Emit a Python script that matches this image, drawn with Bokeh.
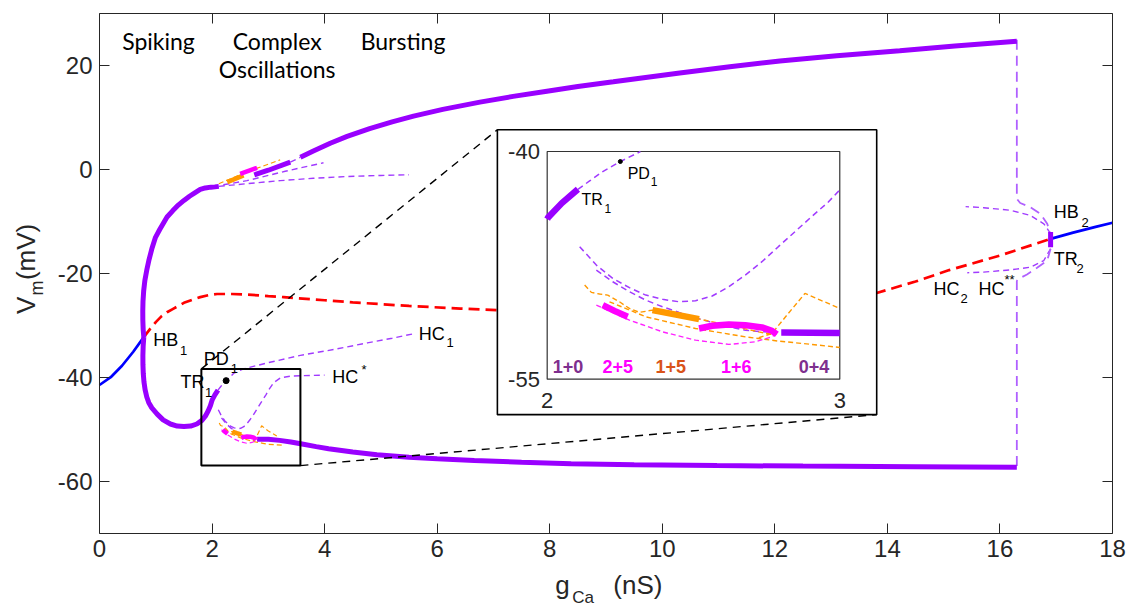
import numpy as np
from bokeh.plotting import figure
from bokeh.models import Range1d, LinearAxis, Label, FixedTicker
from bokeh.embed import file_html
from bokeh.resources import INLINE

# ---------------- data (g_Ca in nS, V_m in mV) ----------------
x_ticks = [0, 2, 4, 6, 8, 10, 12, 14, 16, 18]
y_ticks = [-60, -40, -20, 0, 20]

# stable equilibria
eq_left_g = [0.0, 0.2, 0.4, 0.6, 0.787]
eq_left_v = [-41.5, -40.0, -37.8, -35.1, -32.3]
eq_right_g = [16.9, 17.3, 17.7, 18.0]
eq_right_v = [-13.4, -12.2, -11.1, -10.3]

# unstable equilibria
equ_g = [0.787, 0.9, 1.0, 1.1, 1.2, 1.3, 1.5, 1.65, 1.79, 1.95, 2.09, 2.35, 2.6, 3.0, 3.27, 4.0,
         4.5, 5.5, 6.41, 7.5, 9.0, 10.5, 12.0, 13.0, 13.81, 14.5, 15.1, 16.0, 16.9]
equ_v = [-32.3, -30.7, -29.4, -28.3, -27.5, -26.9, -25.7, -25.1, -24.6, -24.2, -24.0, -24.0, -24.1,
         -24.4, -24.6, -25.2, -25.6, -26.3, -26.8, -27.3, -27.6, -27.5, -27.0, -25.9, -23.8, -21.6,
         -19.4, -16.6, -13.4]

# stable periodic orbits (spiking loop)
loop_max_g = [0.787, 0.776, 0.770, 0.769, 0.773, 0.785, 0.806, 0.84, 0.876, 0.93, 0.995, 1.07, 1.14,
              1.2, 1.3, 1.4, 1.5, 1.6, 1.7, 1.79, 1.88, 1.98, 2.05, 2.12]
loop_max_v = [-32.3, -30.8, -29.0, -27.3, -25.4, -23.4, -21.4, -19.4, -17.6, -15.3, -13.1, -11.6, -10.3,
              -9.2, -8.0, -6.9, -6.0, -5.2, -4.5, -3.9, -3.6, -3.45, -3.4, -3.3]
loop_min_g = [0.787, 0.776, 0.771, 0.772, 0.778, 0.79, 0.81, 0.84, 0.876, 0.93, 1.025, 1.13, 1.26, 1.38,
              1.5, 1.62, 1.73, 1.82, 1.88, 1.93, 1.97, 2.003, 2.05, 2.105]
loop_min_v = [-32.3, -34.0, -35.8, -37.6, -39.3, -40.9, -42.4, -43.8, -44.9, -45.9, -47.1, -48.2, -49.0,
              -49.4, -49.5, -49.4, -49.0, -48.3, -47.5, -46.5, -45.5, -44.35, -43.4, -42.49]

# stable bursting orbit
burst_max_g = [3.57, 3.8, 4.1, 4.4, 4.8, 5.2, 5.58, 6.1, 6.76, 7.35, 7.95, 8.5, 9.13, 10.31, 11.2,
               12.09, 13.1, 14.22, 15.2, 16.3]
burst_max_v = [2.3, 3.5, 5.0, 6.3, 7.8, 9.1, 10.2, 11.5, 12.9, 14.0, 15.0, 15.9, 16.8, 18.5, 19.7,
               20.8, 21.8, 22.8, 23.7, 24.6]
burst_min_g = [2.80, 3.0, 3.2, 3.4, 3.6, 3.85, 4.07, 4.5, 4.93, 5.5, 6.0, 6.66, 7.5, 8.38, 9.5, 10.97,
               12.5, 14.5, 16.3]
burst_min_v = [-51.92, -51.95, -52.15, -52.45, -52.85, -53.35, -53.75, -54.4, -54.9, -55.4, -55.7,
               -56.0, -56.35, -56.65, -56.85, -57.0, -57.1, -57.2, -57.3]
cx_max_g = [2.75, 3.0, 3.39]
cx_max_v = [-1.1, -0.2, 1.35]

# unstable periodic orbits
pd_g = [2.105, 2.145, 2.19, 2.25, 2.315, 2.39, 2.56, 3.0, 3.57, 4.2, 4.76, 5.2, 5.58]
pd_v = [-42.49, -41.94, -41.32, -40.66, -40.04, -39.2, -38.4, -37.2, -35.8, -34.6, -33.4, -32.5, -31.65]
hcs_g = [2.111, 2.168, 2.224, 2.281, 2.337, 2.394, 2.451, 2.507, 2.564, 2.621, 2.677, 2.734,
         2.79, 2.847, 2.904, 2.96, 3.0, 3.1, 3.22, 3.4, 3.6, 4.0]
hcs_v = [-46.27, -47.48, -48.36, -48.97, -49.46, -49.74, -49.90, -49.83, -49.52, -48.91, -48.14,
         -47.26, -46.27, -45.28, -44.29, -43.34, -42.53, -41.0, -40.1, -39.8, -39.7, -39.6]
p2_g = [2.168, 2.224, 2.281, 2.337, 2.394, 2.451, 2.507, 2.564, 2.621, 2.677, 2.734, 2.785]
p2_v = [-47.81, -48.58, -49.24, -49.79, -50.23, -50.60, -50.95, -51.26, -51.55, -51.77, -51.88, -51.92]
up_d1_g = [2.12, 2.6, 3.21, 3.8, 4.4, 5.0, 5.5]
up_d1_v = [-3.3, -2.8, -2.2, -1.75, -1.4, -1.2, -1.08]
up_d2_g = [2.2, 2.62, 3.3, 3.98]
up_d2_v = [-3.0, -2.2, -0.4, 1.23]
up_d3_g = [3.39, 3.57]
up_d3_v = [1.35, 2.3]
hb2_up_g = [16.9, 16.78, 16.54, 16.19, 15.71, 15.39]
hb2_up_v = [-12.4, -10.5, -8.9, -7.9, -7.4, -7.2]
hb2_top_g = [16.30, 16.30, 16.36, 16.54, 16.72, 16.84, 16.9]
hb2_top_v = [24.9, -5.7, -6.5, -7.3, -8.6, -10.5, -12.4]
hc2_g = [16.9, 16.78, 16.54, 16.19, 15.71, 15.42]
hc2_v = [-15.3, -17.56, -18.85, -19.35, -19.8, -19.9]
hcss_g = [16.9, 16.84, 16.66, 16.48, 16.33, 16.30, 16.30]
hcss_v = [-15.3, -17.56, -18.96, -20.25, -21.1, -21.5, -57.3]
tr2_g = [16.9, 16.9]
tr2_v = [-12.1, -15.0]

# multi-pulse branches (colour = spike pattern)
m25_g = [2.19, 2.23, 2.275]
m25_v = [-50.12, -50.5, -50.89]
o15_g = [2.36, 2.44, 2.519]
o15_v = [-50.45, -50.75, -51.04]
m16_g = [2.519, 2.564, 2.621, 2.677, 2.734, 2.768, 2.785]
m16_v = [-51.66, -51.48, -51.39, -51.44, -51.59, -51.81, -52.05]
md_g = [2.168, 2.281, 2.394, 2.507, 2.621, 2.711, 2.768, 2.785]
md_v = [-50.12, -51.11, -51.88, -52.43, -52.71, -52.54, -52.21, -51.99]
o1_g = [2.128, 2.151, 2.179, 2.207, 2.247, 2.281, 2.315, 2.36, 2.519, 2.621, 2.723, 2.768]
o1_v = [-48.80, -49.28, -49.39, -49.46, -49.90, -50.34, -50.60, -50.45, -51.04, -51.44, -51.88, -52.05]
o2_g = [2.213, 2.337, 2.507, 2.677, 2.79, 2.904, 3.0, 3.27]
o2_v = [-49.9, -50.89, -51.66, -52.21, -52.49, -52.71, -52.91, -53.1]
o3_g = [2.723, 2.768, 2.824, 2.881, 3.0, 3.15]
o3_v = [-52.27, -51.99, -50.67, -49.35, -50.34, -51.3]
up_od_g = [2.12, 2.6, 3.21]
up_od_v = [-2.8, -0.6, 1.8]
up_o_g = [2.27, 2.56]
up_o_v = [-2.5, -1.2]
up_m_g = [2.5, 2.8]
up_m_v = [-0.9, 0.27]

pd1_g = [2.25]
pd1_v = [-40.66]

# ---------------- styles ----------------
PURPLE = "#9900FF"
STY = {
    "stable":  dict(color=PURPLE, w=5.0, wi=6.5, dash="solid"),
    "unst":    dict(color="#A13BFF", w=1.4, wi=1.5, dash="6 4"),
    "vert":    dict(color="#B060FF", w=1.8, wi=1.8, dash="10 6"),
    "eqs":     dict(color="#0000FF", w=2.7, wi=2.7, dash="solid"),
    "equ":     dict(color="#FF0000", w=2.7, wi=2.7, dash="11 6"),
    "mag":     dict(color="#FF00FF", w=4.5, wi=6.5, dash="solid"),
    "org":     dict(color="#FF9900", w=4.5, wi=6.5, dash="solid"),
    "magd":    dict(color="#FF22FF", w=1.2, wi=1.4, dash="5 3"),
    "orgd":    dict(color="#FF9900", w=1.2, wi=1.4, dash="5 3"),
}

curves = [
    (eq_left_g, eq_left_v, "eqs"), (eq_right_g, eq_right_v, "eqs"), (equ_g, equ_v, "equ"),
    (pd_g, pd_v, "unst"), (hcs_g, hcs_v, "unst"), (p2_g, p2_v, "unst"),
    (up_d1_g, up_d1_v, "unst"), (up_d2_g, up_d2_v, "unst"), (up_d3_g, up_d3_v, "unst"),
    (hb2_up_g, hb2_up_v, "unst"), (hb2_top_g, hb2_top_v, "vert"), (hc2_g, hc2_v, "unst"),
    (hcss_g, hcss_v, "vert"),
    (o1_g, o1_v, "orgd"), (o2_g, o2_v, "orgd"), (o3_g, o3_v, "orgd"), (md_g, md_v, "magd"),
    (up_od_g, up_od_v, "orgd"),
    (loop_max_g, loop_max_v, "stable"), (loop_min_g, loop_min_v, "stable"),
    (burst_max_g, burst_max_v, "stable"), (burst_min_g, burst_min_v, "stable"),
    (cx_max_g, cx_max_v, "stable"), (tr2_g, tr2_v, "stable"),
    (m25_g, m25_v, "mag"), (o15_g, o15_v, "org"), (m16_g, m16_v, "mag"),
    (up_o_g, up_o_v, "org"), (up_m_g, up_m_v, "mag"),
]

# ---------------- layout constants ----------------
W, H = 1132, 608
AX_PX = dict(left=99, right=1112, top=12.7, bottom=532.7)   # pixel box of the axes
GX = (0.0, 18.0)                                              # axes limits
VY = (-70.0, 30.0)
ppx = (AX_PX["right"] - AX_PX["left"]) / (GX[1] - GX[0])
ppy = (AX_PX["bottom"] - AX_PX["top"]) / (VY[1] - VY[0])
XR = (GX[0] - AX_PX["left"] / ppx, GX[1] + (W - AX_PX["right"]) / ppx)
YR = (VY[0] - (H - AX_PX["bottom"]) / ppy, VY[1] + AX_PX["top"] / ppy)

ZOOM_BOX = dict(left=1.81, right=3.57, bottom=-57.0, top=-38.4)      # main coords
INSET_BOX = dict(left=7.07, right=13.81, bottom=-47.2, top=7.58)     # main coords
INSET_AX_MAIN = dict(x2=7.955, x3=13.154, ytop=3.40, ybot=-40.38)    # where inset axes sit
IX = (2.0, 3.0)
IY = (-55.0, -40.0)
sx = (INSET_AX_MAIN["x3"] - INSET_AX_MAIN["x2"]) / (IX[1] - IX[0])
sy = (INSET_AX_MAIN["ytop"] - INSET_AX_MAIN["ybot"]) / (IY[1] - IY[0])
ix_range = Range1d(IX[0] + (XR[0] - INSET_AX_MAIN["x2"]) / sx, IX[0] + (XR[1] - INSET_AX_MAIN["x2"]) / sx)
iy_range = Range1d(IY[0] + (YR[0] - INSET_AX_MAIN["ybot"]) / sy, IY[1] + (YR[1] - INSET_AX_MAIN["ytop"]) / sy)


def clip_poly(xs, ys, x0, x1, y0, y1):
    ox, oy = [], []
    for i in range(len(xs) - 1):
        ax, ay, bx, by = xs[i], ys[i], xs[i + 1], ys[i + 1]
        dx, dy = bx - ax, by - ay
        t0, t1, ok = 0.0, 1.0, True
        for pp, qq in ((-dx, ax - x0), (dx, x1 - ax), (-dy, ay - y0), (dy, y1 - ay)):
            if pp == 0:
                if qq < 0:
                    ok = False
                    break
            else:
                t = qq / pp
                if pp < 0:
                    if t > t1:
                        ok = False
                        break
                    t0 = max(t0, t)
                else:
                    if t < t0:
                        ok = False
                        break
                    t1 = min(t1, t)
        if not ok:
            continue
        s = (ax + t0 * dx, ay + t0 * dy)
        e = (ax + t1 * dx, ay + t1 * dy)
        if ox and not np.isnan(ox[-1]) and (abs(ox[-1] - s[0]) > 1e-9 or abs(oy[-1] - s[1]) > 1e-9):
            ox.append(np.nan)
            oy.append(np.nan)
        if not ox or np.isnan(ox[-1]):
            ox.append(s[0])
            oy.append(s[1])
        ox.append(e[0])
        oy.append(e[1])
    return np.array(ox, dtype=float), np.array(oy, dtype=float)


# ---------------- figure ----------------
FONT = "Liberation Sans"
INK = "#262626"

p = figure(width=W, height=H, x_range=Range1d(*XR), y_range=Range1d(*YR),
           output_backend="svg", toolbar_location=None,
           x_axis_location=None, y_axis_location=None,
           min_border=0, min_border_left=0, min_border_right=0, min_border_top=0, min_border_bottom=0)
p.extra_x_ranges = {"ix": ix_range}
p.extra_y_ranges = {"iy": iy_range}
p.xgrid.visible = False
p.ygrid.visible = False
p.outline_line_color = None
p.background_fill_color = "white"
p.border_fill_color = "white"

AX_COMMON = dict(major_tick_in=10, major_tick_out=0, minor_tick_line_color=None,
                 axis_line_color=INK, major_tick_line_color=INK, axis_line_width=1,
                 major_label_text_font=FONT, major_label_text_font_size="24px",
                 major_label_text_color=INK, major_label_standoff=7)
xb = LinearAxis(fixed_location=VY[0], bounds=GX, ticker=FixedTicker(ticks=x_ticks),
                major_label_overrides={t: str(t) for t in x_ticks}, **AX_COMMON)
yl = LinearAxis(fixed_location=GX[0], bounds=VY, ticker=FixedTicker(ticks=y_ticks),
                major_label_overrides={t: str(t) for t in y_ticks}, **AX_COMMON)
xt = LinearAxis(fixed_location=VY[1], bounds=GX, ticker=FixedTicker(ticks=x_ticks),
                major_label_overrides={t: "" for t in x_ticks}, **AX_COMMON)
yr = LinearAxis(fixed_location=GX[1], bounds=VY, ticker=FixedTicker(ticks=y_ticks),
                major_label_overrides={t: "" for t in y_ticks}, **AX_COMMON)
p.add_layout(xb, "below")
p.add_layout(yl, "left")
p.add_layout(xt, "above")
p.add_layout(yr, "right")

# main curves
for gx, vy, key in curves:
    s = STY[key]
    p.line(gx, vy, line_color=s["color"], line_width=s["w"], line_dash=s["dash"])
p.scatter(pd1_g, pd1_v, size=6, color="black")

# zoom box + connectors
p.quad(left=[ZOOM_BOX["left"]], right=[ZOOM_BOX["right"]], bottom=[ZOOM_BOX["bottom"]],
       top=[ZOOM_BOX["top"]], fill_color=None, line_color="black", line_width=2)
p.line([ZOOM_BOX["left"], INSET_BOX["left"]], [ZOOM_BOX["top"], INSET_BOX["top"]],
       line_color="black", line_width=1.4, line_dash="8 6")
p.line([ZOOM_BOX["right"], INSET_BOX["right"]], [ZOOM_BOX["bottom"], INSET_BOX["bottom"]],
       line_color="black", line_width=1.4, line_dash="8 6")

# inset panel
p.quad(left=[INSET_BOX["left"]], right=[INSET_BOX["right"]], bottom=[INSET_BOX["bottom"]],
       top=[INSET_BOX["top"]], fill_color="white", line_color="black", line_width=1.6)
p.quad(left=[IX[0]], right=[IX[1]], bottom=[IY[0]], top=[IY[1]], fill_color=None,
       line_color="#333333", line_width=1.2, x_range_name="ix", y_range_name="iy")
for gx, vy, key in curves:
    s = STY[key]
    cx, cy = clip_poly(gx, vy, IX[0], IX[1], IY[0], IY[1])
    if len(cx) > 1:
        p.line(cx, cy, line_color=s["color"], line_width=s["wi"], line_dash=s["dash"],
               x_range_name="ix", y_range_name="iy")
p.scatter(pd1_g, pd1_v, size=4, color="black", x_range_name="ix", y_range_name="iy")


def lab(x, y, text, size="18px", align="left", color="black", font=FONT, style="normal",
        angle=0.0, rn=None):
    kw = {}
    if rn:
        kw = dict(x_range_name="ix", y_range_name="iy")
    p.add_layout(Label(x=x, y=y, text=text, text_font=font, text_font_size=size,
                       text_align=align, text_baseline="middle", text_color=color,
                       text_font_style=style, angle=angle, **kw))


def sublab(x, y, main, sub, xs, ys, size="18px", ssize="13px", rn=None):
    lab(x, y, main, size=size, rn=rn)
    lab(xs, ys, sub, size=ssize, rn=rn)


# main annotations
sublab(0.954, -32.9, "HB", "1", 1.43, -34.9)
sublab(1.853, -36.5, "PD", "1", 2.33, -38.4)
sublab(1.44, -41.0, "TR", "1", 1.874, -42.9)
sublab(5.673, -31.65, "HC", "1", 6.165, -33.4)
sublab(4.135, -40.0, "HC", "*", 4.655, -38.6)
sublab(16.956, -8.3, "HB", "2", 17.45, -10.2)
sublab(16.956, -17.2, "TR", "2", 17.36, -19.1)
sublab(14.82, -23.0, "HC", "2", 15.3, -24.9)
sublab(15.62, -23.0, "HC", "**", 16.08, -21.3)

# regime names
lab(1.048, 24.75, "Spiking", size="23px", align="center", font="Lato")
lab(3.157, 24.75, "Complex", size="23px", align="center", font="Lato")
lab(3.157, 19.3, "Oscillations", size="23px", align="center", font="Lato")
lab(5.393, 24.75, "Bursting", size="23px", align="center", font="Lato")

# inset annotations
sublab(2.275, -41.43, "PD", "1", 2.354, -41.98, size="16px", ssize="12px", rn=True)
sublab(2.117, -43.19, "TR", "1", 2.196, -43.74, size="16px", ssize="12px", rn=True)
for xx, tt, cc in ((2.071, "1+0", "#7E2F8E"), (2.241, "2+5", "#FF00FF"), (2.422, "1+5", "#D95319"),
                   (2.646, "1+6", "#FF00FF"), (2.912, "0+4", "#7E2F8E")):
    lab(xx, -54.19, tt, size="18px", align="center", color=cc, style="bold", rn=True)
lab(1.975, -40.0, "-40", size="22px", align="right", color=INK, rn=True)
lab(1.975, -55.0, "-55", size="22px", align="right", color=INK, rn=True)
lab(2.0, -56.4, "2", size="22px", align="center", color=INK, rn=True)
lab(3.0, -56.4, "3", size="22px", align="center", color=INK, rn=True)

# axis titles
lab(8.10, -79.9, "g", size="26px", color=INK)
lab(8.40, -82.4, "Ca", size="17px", color=INK)
lab(9.13, -79.9, "(nS)", size="26px", color=INK)
lab(-1.302, -26.2, "V", size="26px", align="center", color=INK, angle=np.pi / 2)
lab(-1.107, -22.85, "m", size="18px", align="center", color=INK, angle=np.pi / 2)
lab(-1.302, -15.9, "(mV)", size="26px", align="center", color=INK, angle=np.pi / 2)

open("out.html", "w").write(file_html(p, INLINE))
